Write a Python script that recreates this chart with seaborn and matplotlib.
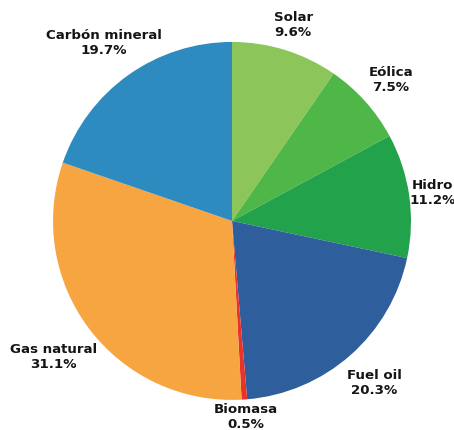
import numpy as np
import matplotlib
matplotlib.use("Agg")
import matplotlib.pyplot as plt
import seaborn as sns

categories = ["Solar", "Eólica", "Hidro", "Fuel oil", "Biomasa", "Gas natural", "Carbón mineral"]
values = [9.6, 7.5, 11.2, 20.3, 0.5, 31.1, 19.7]
pct_labels = ["9.6%", "7.5%", "11.2%", "20.3%", "0.5%", "31.1%", "19.7%"]
hex_colors = ["#8cc65a", "#4fb648", "#22a24b", "#2f5e9c", "#e8332b", "#f7a540", "#2e8bc0"]
label_dist = [1.15, 1.19, 1.13, 1.20, 1.09, 1.25, 1.23]

sns.set_theme(style="white")
plt.rcParams['font.family'] = ['DejaVu Sans']

colors = sns.color_palette(hex_colors)

fig = plt.figure(figsize=(4.54, 4.31), dpi=100)
ax = fig.add_axes([0, 0, 1, 1])
wedges, _ = ax.pie(values, colors=colors, startangle=90, counterclock=False,
                   radius=1.0, wedgeprops=dict(linewidth=0))
for w, name, pct, d in zip(wedges, categories, pct_labels, label_dist):
    ang = np.deg2rad((w.theta1 + w.theta2) / 2)
    x, y = d * np.cos(ang), d * np.sin(ang)
    ax.text(x, y, f"{name}\n{pct}", ha="center", va="center", fontsize=9.6,
            fontweight="heavy", color="#151515", linespacing=1.2)

ax.set_xlim(-1.296, 1.240)
ax.set_ylim(-1.168, 1.240)
ax.set_aspect("equal")
ax.axis("off")
fig.savefig("out.png", dpi=100, facecolor="white")
